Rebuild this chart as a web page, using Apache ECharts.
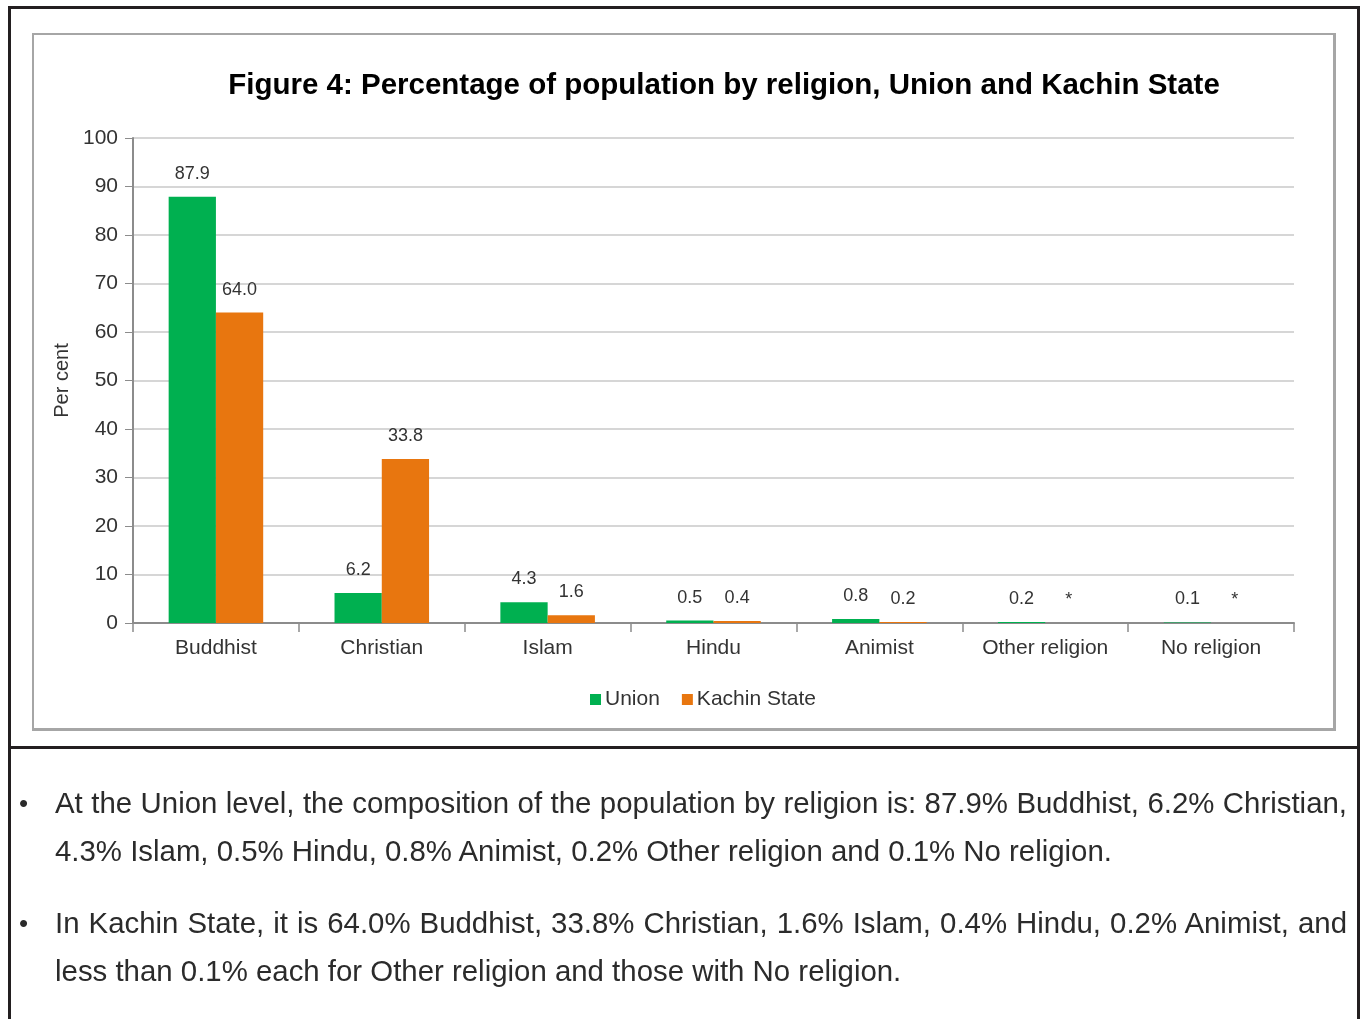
<!DOCTYPE html>
<html>
<head>
<meta charset="utf-8">
<script src="https://cdn.jsdelivr.net/npm/echarts@6/dist/echarts.min.js"></script>
<style>
  html, body { margin: 0; padding: 0; background: #fff; }
  body { width: 1362px; height: 1019px; position: relative; overflow: hidden; font-family: "Liberation Sans", Arial, sans-serif; }
  .frame { position: absolute; background: #231f20; }
  #inner { position: absolute; left: 32px; top: 33px; width: 1299px; height: 693px; border: 2px solid #a6a6a6; border-right-width: 3px; border-bottom-width: 3px; box-sizing: content-box; }
  #chart { position: absolute; left: 0; top: 0; width: 1362px; height: 1019px; }
  .txt { position: absolute; left: 55px; font-size: 29.4px; color: #2b2b2b; white-space: nowrap; line-height: 32px; }
  .just { width: 1292px; text-align: justify; text-align-last: justify; white-space: normal; }
  .bul { position: absolute; left: 19px; font-size: 26px; color: #2b2b2b; line-height: 32px; }
</style>
</head>
<body>
<div class="frame" style="left:8px;top:6px;width:1352px;height:3px;"></div>
<div class="frame" style="left:8px;top:6px;width:3px;height:1013px;"></div>
<div class="frame" style="left:1357px;top:6px;width:3px;height:1013px;"></div>
<div class="frame" style="left:8px;top:746px;width:1352px;height:3px;"></div>
<div id="inner"></div>
<div id="chart"></div>
<div class="bul" style="top:787px;">•</div>
<div class="txt just" style="top:787px;">At the Union level, the composition of the population by religion is: 87.9% Buddhist, 6.2% Christian,</div>
<div class="txt" style="top:835px;">4.3% Islam, 0.5% Hindu, 0.8% Animist, 0.2% Other religion and 0.1% No religion.</div>
<div class="bul" style="top:907px;">•</div>
<div class="txt just" style="top:907px;">In Kachin State, it is 64.0% Buddhist, 33.8% Christian, 1.6% Islam, 0.4% Hindu, 0.2% Animist, and</div>
<div class="txt" style="top:955px;">less than 0.1% each for Other religion and those with No religion.</div>
<script>
var categories = ['Buddhist', 'Christian', 'Islam', 'Hindu', 'Animist', 'Other religion', 'No religion'];
var unionValues = [87.9, 6.2, 4.3, 0.5, 0.8, 0.2, 0.1];
var kachinValues = [64.0, 33.8, 1.6, 0.4, 0.2, 0, 0];
var kachinLabels = ['64.0', '33.8', '1.6', '0.4', '0.2', '*', '*'];
var yTicks = [0, 10, 20, 30, 40, 50, 60, 70, 80, 90, 100];

var font = '"Liberation Sans", Arial, sans-serif';
var chart = echarts.init(document.getElementById('chart'), null, { renderer: 'canvas' });
chart.setOption({
  backgroundColor: 'transparent',
  animation: false,
  textStyle: { fontFamily: font },
  title: {
    text: 'Figure 4: Percentage of population by religion, Union and Kachin State',
    left: 719, top: 66, textAlign: 'center',
    textStyle: { fontSize: 29.5, fontWeight: 'bold', color: '#000', fontFamily: font }
  },
  legend: {
    left: 585, top: 684,
    itemWidth: 11, itemHeight: 11, itemGap: 22,
    icon: 'rect',
    textStyle: { fontSize: 21, color: '#333', fontFamily: font, padding: [0, 0, 0, -1] },
    data: ['Union', 'Kachin State']
  },
  grid: { left: 133, right: 68, top: 138, bottom: 396, containLabel: false },
  xAxis: {
    type: 'category', data: categories,
    axisLine: { lineStyle: { color: '#8c8c8c', width: 2 } },
    axisTick: { show: true, length: 9, lineStyle: { color: '#8c8c8c', width: 1.5 } },
    axisLabel: { fontSize: 21, color: '#333', margin: 15, fontFamily: font }
  },
  yAxis: {
    type: 'value', min: 0, max: 100, interval: 10,
    name: 'Per cent', nameLocation: 'middle', nameGap: 60, nameRotate: 90,
    nameTextStyle: { fontSize: 20, color: '#333', fontFamily: font },
    axisLine: { show: true, lineStyle: { color: '#8c8c8c', width: 2 } },
    axisTick: { show: true, length: 8, lineStyle: { color: '#8c8c8c' } },
    axisLabel: { fontSize: 21, color: '#333', margin: 15, fontFamily: font,
      formatter: function (v) { return yTicks.indexOf(v) >= 0 ? String(v) : ''; } },
    splitLine: { lineStyle: { color: '#c8c8c8', width: 1.5 } }
  },
  series: [
    {
      name: 'Union', type: 'bar', data: unionValues,
      barGap: '0%', barCategoryGap: '43%',
      itemStyle: { color: '#00b050' },
      label: { show: true, position: 'top', distance: 14, fontSize: 18, color: '#333', fontFamily: font,
        formatter: function (p) { return p.value.toFixed(1); } }
    },
    {
      name: 'Kachin State', type: 'bar', data: kachinValues,
      barGap: '0%', barCategoryGap: '43%',
      itemStyle: { color: '#e8760f' },
      label: { show: true, position: 'top', distance: 14, fontSize: 18, color: '#333', fontFamily: font,
        formatter: function (p) { return kachinLabels[p.dataIndex]; } }
    }
  ]
});
</script>
</body>
</html>
